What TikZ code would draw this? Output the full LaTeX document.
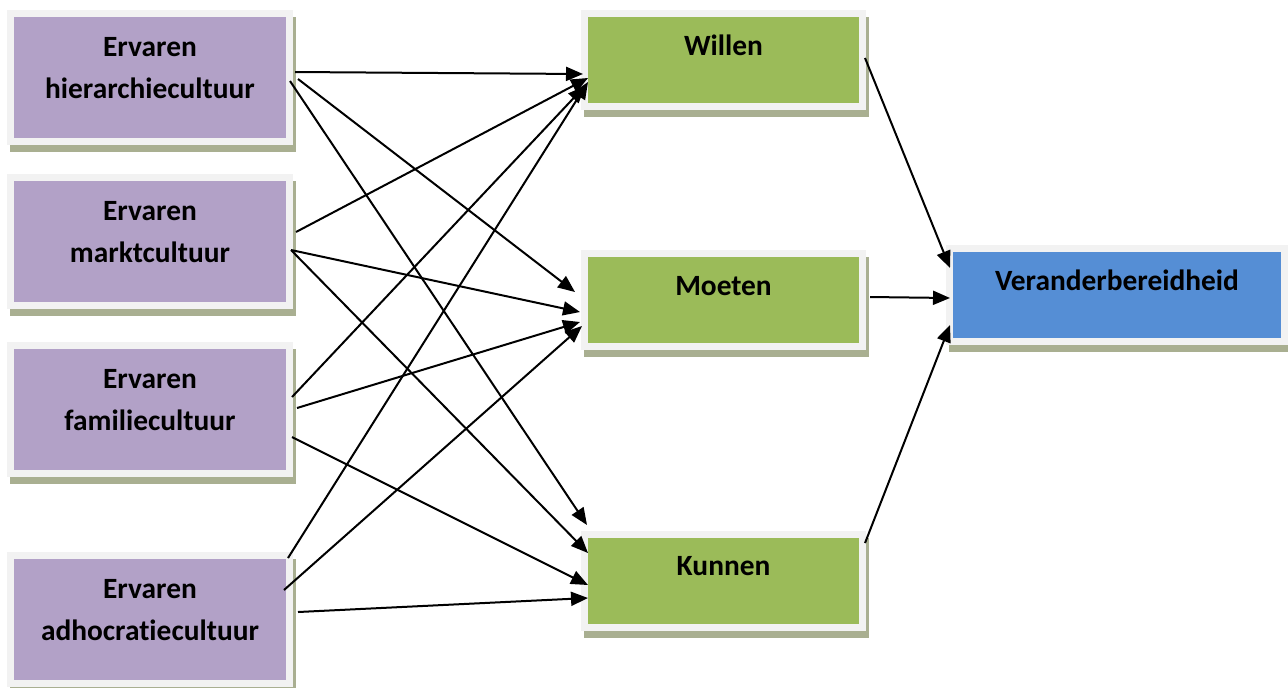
\documentclass[tikz,border=0pt]{standalone}
\usepackage{fontspec}
\setmainfont{Carlito}[Ligatures=NoCommon]
\usetikzlibrary{arrows.meta,shadows}

\definecolor{paars}{HTML}{B2A1C7}
\definecolor{groen}{HTML}{9BBB59}
\definecolor{blauw}{HTML}{558ED5}
\definecolor{kader}{HTML}{F2F2F2}
\definecolor{schaduw}{HTML}{A9AF91}

\begin{document}
\begin{tikzpicture}[
    x=0.5pt, y=-0.5pt,
    box/.style={rectangle, fill=kader, inner sep=0pt, outer sep=0pt,
        minimum width=143pt, minimum height=67.5pt,
        drop shadow={shadow xshift=1.5pt, shadow yshift=-3.5pt, fill=schaduw, opacity=1},
        path picture={\fill[#1] ([shift={(3.5pt,3.5pt)}]path picture bounding box.south west)
            rectangle ([shift={(-3.5pt,-3.5pt)}]path picture bounding box.north east);}},
    smal/.style={minimum width=142.5pt, minimum height=50pt},
    tekst/.style={font=\bfseries\fontsize{14.7}{21}\selectfont, align=center, inner sep=0pt},
    twee/.style={tekst, anchor=north, yshift=-13.5pt},
    een/.style={tekst, anchor=base, yshift=-22.5pt},
    arrow/.style={-{Triangle[length=8.5pt,width=7pt]}, line width=1pt}
]
\useasboundingbox (0,0) rectangle (1288,687);

\node[box=paars, label={[twee]north:Ervaren\\hierarchiecultuur}] (hierarchie) at (150,77.5) {};
\node[box=paars, label={[twee]north:Ervaren\\marktcultuur}] (markt) at (150,241.5) {};
\node[box=paars, label={[twee]north:Ervaren\\familiecultuur}] (familie) at (150,409.5) {};
\node[box=paars, label={[twee]north:Ervaren\\adhocratiecultuur}] (adhocratie) at (150,619.5) {};

\node[box=groen, smal, label={[een]north:Willen}] (willen) at (723.5,60) {};
\node[box=groen, smal, label={[een]north:Moeten}] (moeten) at (723.5,300) {};
\node[box=groen, smal, label={[een]north:Kunnen}] (kunnen) at (723.5,580.5) {};

\node[box=blauw, smal, minimum width=171pt, label={[een]north:Veranderbereidheid}] (bereid) at (1117,295) {};

\draw[arrow] ([shift={(2,-5.5)}]hierarchie.east) -- ([shift={(2,14)}]willen.west);
\draw[arrow] ([shift={(5,1.5)}]hierarchie.east) -- ([shift={(-6,-8)}]moeten.west);
\draw[arrow] ([shift={(-3,3.5)}]hierarchie.east) -- ([shift={(6,-55.5)}]kunnen.west);

\draw[arrow] ([shift={(3,-9.5)}]markt.east) -- ([shift={(7,18)}]willen.west);
\draw[arrow] ([shift={(-2,8.5)}]markt.east) -- ([shift={(-1,12)}]moeten.west);
\draw[arrow] ([shift={(-2,8.5)}]markt.east) -- ([shift={(7,-27.5)}]kunnen.west);

\draw[arrow] ([shift={(-1,-12.5)}]familie.east) -- ([shift={(4,26)}]willen.west);
\draw[arrow] ([shift={(4,-1.5)}]familie.east) -- ([shift={(-1,22)}]moeten.west);
\draw[arrow] ([shift={(-1,27.5)}]familie.east) -- ([shift={(7,4.5)}]kunnen.west);

\draw[arrow] ([shift={(-5,-61.5)}]adhocratie.east) -- ([shift={(7,22)}]willen.west);
\draw[arrow] ([shift={(-9,-29.5)}]adhocratie.east) -- ([shift={(1,26)}]moeten.west);
\draw[arrow] ([shift={(5,-7.5)}]adhocratie.east) -- ([shift={(7,17.5)}]kunnen.west);

\draw[arrow] ([shift={(-1,-2)}]willen.east) -- ([shift={(4,-27)}]bereid.west);
\draw[arrow] ([shift={(4,-3)}]moeten.east) -- ([shift={(4,3)}]bereid.west);
\draw[arrow] ([shift={(-1,-37.5)}]kunnen.east) -- ([shift={(4,30)}]bereid.west);

\end{tikzpicture}
\end{document}
